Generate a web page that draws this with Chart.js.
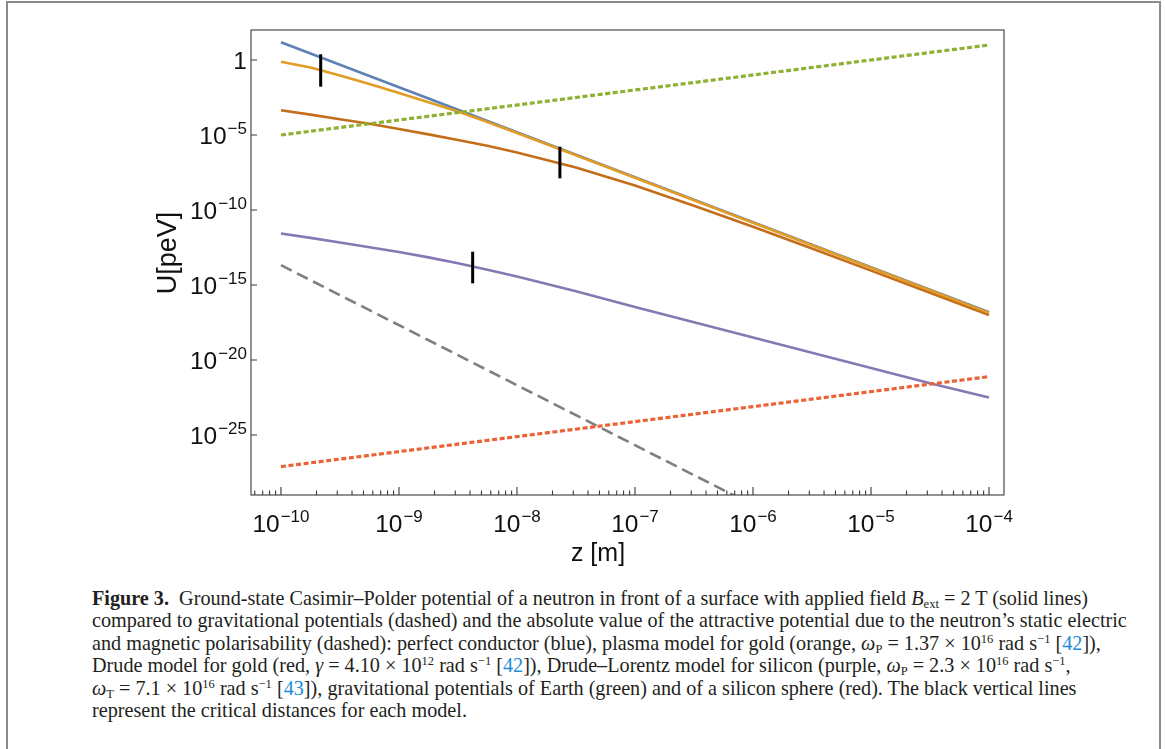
<!DOCTYPE html>
<html><head><meta charset="utf-8">
<script src="https://cdn.jsdelivr.net/npm/chart.js@4.4.1/dist/chart.umd.min.js"></script>
<style>
html,body{margin:0;padding:0;background:#fff;}
body{width:1165px;height:749px;overflow:hidden;position:relative;}
#box{position:absolute;left:6px;top:1px;width:1151px;height:800px;border:2px solid #8c8c8c;border-bottom:none;}
#chart{position:absolute;left:0;top:0;}
#cap{position:absolute;left:92px;top:587px;font-family:"Liberation Serif",serif;font-size:18.5px;line-height:22.4px;color:#231f20;white-space:nowrap;}
#cap div{height:22.4px;}
#cap sup{font-size:0.62em;line-height:0;vertical-align:0.55em;}
#cap sub{font-size:0.62em;line-height:0;vertical-align:-0.22em;}
#cap .ref{color:#1f8dd6;}
</style></head><body>
<div id="box"></div>
<canvas id="chart" width="1165" height="570"></canvas>
<div id="cap">
<div id="l1"><b>Figure 3.</b>&nbsp;&nbsp;Ground-state Casimir–Polder potential of a neutron in front of a surface with applied field <i>B</i><sub>ext</sub> = 2 T (solid lines)</div>
<div id="l2">compared to gravitational potentials (dashed) and the absolute value of the attractive potential due to the neutron’s static electric</div>
<div>and magnetic polarisability (dashed): perfect conductor (blue), plasma model for gold (orange, <i>ω</i><sub>P</sub> = 1.37 × 10<sup>16</sup> rad s<sup>−1</sup> [<span class="ref">42</span>]),</div>
<div>Drude model for gold (red, <i>γ</i> = 4.10 × 10<sup>12</sup> rad s<sup>−1</sup> [<span class="ref">42</span>]), Drude–Lorentz model for silicon (purple, <i>ω</i><sub>P</sub> = 2.3 × 10<sup>16</sup> rad s<sup>−1</sup>,</div>
<div><i>ω</i><sub>T</sub> = 7.1 × 10<sup>16</sup> rad s<sup>−1</sup> [<span class="ref">43</span>]), gravitational potentials of Earth (green) and of a silicon sphere (red). The black vertical lines</div>
<div>represent the critical distances for each model.</div>
</div>
<script>
// ---- data (z in m, U in peV) ----
const zGrid = [1e-10,1.78e-10,3.16e-10,5.62e-10,1e-9,1.78e-9,3.16e-9,5.62e-9,1e-8,3.16e-8,1e-7,3.16e-7,1e-6,3.16e-6,1e-5,3.16e-5,1e-4];
const perfectConductorU = [15.1,2.69,0.479,0.0851,0.0151,2.69e-3,4.79e-4,8.51e-5,1.51e-5,4.79e-7,1.51e-8,4.79e-10,1.51e-11,4.79e-13,1.51e-14,4.79e-16,1.51e-17];
const plasmaGoldU = [0.776,0.316,0.0933,0.0251,6.31e-3,1.51e-3,3.72e-4,7.41e-5,1.35e-5,4.47e-7,1.41e-8,4.47e-10,1.41e-11,4.47e-13,1.41e-14,4.47e-16,1.38e-17];
const drudeGoldU = [4.47e-4,2.29e-4,1.12e-4,5.62e-5,2.51e-5,1.10e-5,4.68e-6,1.91e-6,6.92e-7,6.76e-8,4.27e-9,1.91e-10,7.59e-12,2.75e-13,9.12e-15,3.02e-16,1.0e-17];
const drudeLorentzSiU = [2.69e-12,1.38e-12,6.76e-13,3.31e-13,1.58e-13,6.92e-14,2.82e-14,1.05e-14,3.72e-15,3.80e-16,3.39e-17,3.31e-18,3.16e-19,3.02e-20,2.88e-21,2.82e-22,3.16e-23];
const gravZ = [1e-10, 1e-4];
const earthGravU = [1.0e-5, 1.0e1];
const sphereGravU = [7.8e-28, 7.8e-22];
const polarisZ = [1e-10, 1e-6];
const polarisU = [2.1e-14, 2.1e-30];
const criticalZ = [2.17e-10, 4.21e-9, 2.31e-8];
const criticalLowU = [1.66e-2, 1.29e-15, 1.29e-8];
const criticalHighU = [2.4, 1.66e-13, 1.66e-6];
const xTickExponents = [-10,-9,-8,-7,-6,-5,-4];
const yTickExponents = [0,-5,-10,-15,-20,-25];
const xAxisTitle = 'z [m]';
const yAxisTitle = 'U[peV]';

// ---- caption width fit ----
(function(){
  const cap = document.getElementById('cap');
  const l2 = document.getElementById('l2');
  const r = document.createRange(); r.selectNodeContents(l2);
  const w = r.getBoundingClientRect().width;
  const fs = 18.5 * 1036 / w;
  cap.style.fontSize = fs.toFixed(2) + 'px';
})();

const pts = (xs, ys) => xs.map((x, i) => ({x: x, y: ys[i]}));
const F = '"Liberation Sans", Arial, sans-serif';

function drawPow(ctx, exp, x, y, align){
  const BASE = 24.5, SUP = 17, RAISE = 10, GAP = 1;
  ctx.textBaseline = 'alphabetic';
  ctx.textAlign = 'left';
  if (exp === 0){
    ctx.font = BASE + 'px ' + F;
    const w = ctx.measureText('1').width;
    ctx.fillText('1', align === 'center' ? x - w/2 : x - w, y);
    return;
  }
  const base = '10', sup = '\u2212' + Math.abs(exp);
  ctx.font = BASE + 'px ' + F; const wb = ctx.measureText(base).width;
  ctx.font = SUP + 'px ' + F; const ws = ctx.measureText(sup).width;
  const total = wb + GAP + ws;
  const left = align === 'center' ? x - total/2 : x - total;
  ctx.font = BASE + 'px ' + F; ctx.fillText(base, left, y);
  ctx.font = SUP + 'px ' + F; ctx.fillText(sup, left + wb + GAP, y - RAISE);
}

const axesPlugin = {
  id: 'axesFrame',
  afterDraw(chart){
    const ctx = chart.ctx, a = chart.chartArea, xs = chart.scales.x, ys = chart.scales.y;
    ctx.save();
    ctx.strokeStyle = '#3a3a3a'; ctx.lineWidth = 1.1;
    ctx.strokeRect(a.left, a.top, a.right - a.left, a.bottom - a.top);
    ctx.beginPath();
    for (let d = -11; d <= -4; d++){
      for (let k = 1; k <= 9; k++){
        const v = k * Math.pow(10, d);
        if (v < xs.min || v > xs.max) continue;
        const px = xs.getPixelForValue(v);
        const len = k === 1 ? 8 : 4.5;
        ctx.moveTo(px, a.bottom); ctx.lineTo(px, a.bottom - len);
      }
    }
    yTickExponents.forEach(e => {
      const py = ys.getPixelForValue(Math.pow(10, e));
      ctx.moveTo(a.left, py); ctx.lineTo(a.left + 6, py);
    });
    ctx.stroke();
    ctx.fillStyle = '#111';
    xTickExponents.forEach(e => drawPow(ctx, e, xs.getPixelForValue(Math.pow(10, e)), a.bottom + 37, 'center'));
    yTickExponents.forEach(e => drawPow(ctx, e, a.left - 4, ys.getPixelForValue(Math.pow(10, e)) + 8.5, 'right'));
    ctx.textAlign = 'center'; ctx.textBaseline = 'alphabetic';
    ctx.font = '25px ' + F;
    ctx.fillText(xAxisTitle, 598, a.bottom + 66);
    ctx.font = '27px ' + F;
    ctx.translate(176, 253); ctx.rotate(-Math.PI/2);
    ctx.fillText(yAxisTitle, 0, 0);
    ctx.restore();
  }
};

const solid = (label, data, color, order) => ({label, data, borderColor: color, borderWidth: 2.6, order, clip: 0});
const datasets = [
  solid('perfect conductor', pts(zGrid, perfectConductorU), '#5E81B5', 4),
  solid('plasma model (gold)', pts(zGrid, plasmaGoldU), '#E19C24', 3),
  solid('Drude model (gold)', pts(zGrid, drudeGoldU), '#C56E1A', 5),
  solid('Drude–Lorentz (silicon)', pts(zGrid, drudeLorentzSiU), '#8778B3', 6),
  {label: 'gravitational potential of Earth', data: pts(gravZ, earthGravU), borderColor: '#8FB032', borderWidth: 3.2, borderDash: [5, 2.6], order: 2, clip: 0},
  {label: 'gravitational potential of silicon sphere', data: pts(gravZ, sphereGravU), borderColor: '#EB6235', borderWidth: 3.2, borderDash: [5, 2.6], order: 2, clip: 0},
  {label: 'static polarisability', data: pts(polarisZ, polarisU), borderColor: '#7f7f7f', borderWidth: 2.6, borderDash: [12, 6], order: 2, clip: 0}
];
criticalZ.forEach((z, i) => datasets.push({label: 'critical distance ' + (i+1), data: [{x: z, y: criticalLowU[i]}, {x: z, y: criticalHighU[i]}], borderColor: '#000', borderWidth: 3, order: 0, clip: 0}));

new Chart(document.getElementById('chart'), {
  type: 'line',
  data: {datasets},
  options: {
    responsive: false, animation: false,
    layout: {padding: {left: 251, top: 30, right: 161, bottom: 75}},
    plugins: {legend: {display: false}, tooltip: {enabled: false}},
    elements: {point: {radius: 0}, line: {tension: 0, borderCapStyle: 'butt'}},
    scales: {
      x: {type: 'logarithmic', bounds: 'data', min: Math.pow(10, -10.254), max: Math.pow(10, -3.873),
          grid: {display: false, drawTicks: false}, ticks: {display: false}, border: {display: false},
          afterFit(s){ s.height = 0; }},
      y: {type: 'logarithmic', bounds: 'data', min: 1e-29, max: 1e2,
          grid: {display: false, drawTicks: false}, ticks: {display: false}, border: {display: false},
          afterFit(s){ s.width = 0; }}
    }
  },
  plugins: [axesPlugin]
});
</script>
</body></html>
